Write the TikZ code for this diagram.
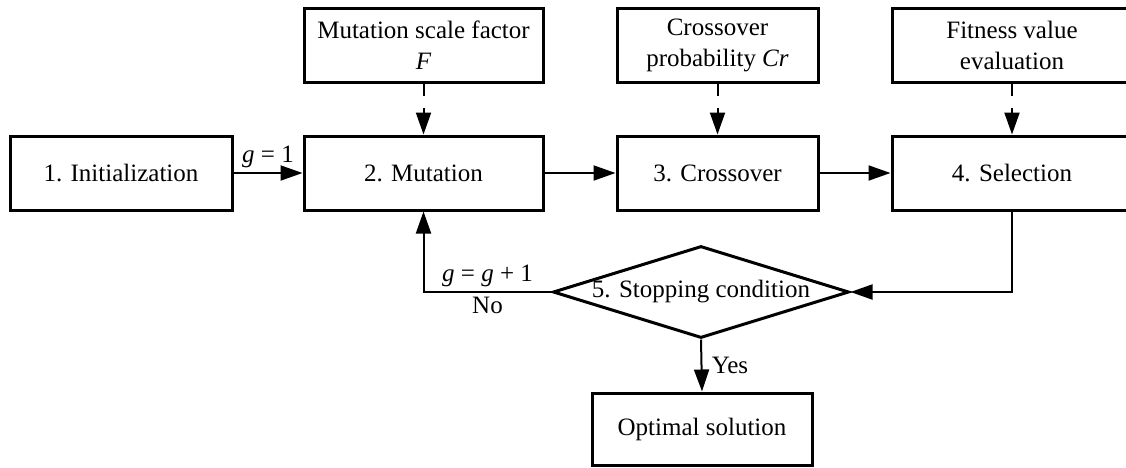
\documentclass[tikz,border=0pt]{standalone}
\usepackage{fontspec}
\setmainfont{Liberation Serif}
\usetikzlibrary{arrows.meta,shapes.geometric}

\begin{document}
\begin{tikzpicture}[x=1pt,y=-1pt,
  txt/.style={font=\fontsize{25}{31}\selectfont},
  box/.style={txt,draw,line width=3pt,minimum height=74pt,inner sep=0pt,align=center},
  conn/.style={line width=2pt,-{Triangle[length=22pt,width=15pt]}},
  dconn/.style={conn,dash pattern=on 12pt off 12pt}]
  \useasboundingbox (0,0) rectangle (1126,467);

  % main row
  \node[box,minimum width=222pt] (init) at (121,173) {1. Initialization};
  \node[box,minimum width=239pt] (mut) at (423.5,173) {2. Mutation};
  \node[box,minimum width=201pt] (cross) at (717.5,173) {3. Crossover};
  \node[box,minimum width=240pt] (sel) at (1012,173) {4. Selection};

  % parameter boxes
  \node[box,minimum width=239pt] (mutf) at (423.5,45) {Mutation scale factor\\\textit{F}};
  \node[box,minimum width=201pt] (crossp) at (717.5,45) {Crossover\\probability \textit{Cr}};
  \node[box,minimum width=240pt] (fit) at (1012,45) {Fitness value\\evaluation};

  % stopping test and result
  \node[draw,diamond,line width=3pt,minimum width=296pt,minimum height=92pt,inner sep=0pt] (cond) at (701,292) {};
  \node[txt] (condtxt) at (cond.center) {5. Stopping condition};
  \node[box,minimum width=220pt,minimum height=72pt] (opt) at (702,429) {Optimal solution};

  % connectors
  \draw[conn] (init.east) -- node[txt,above=1pt] {\textit{g} = 1} (mut.west);
  \draw[conn] (mut.east) -- (cross.west);
  \draw[conn] (cross.east) -- (sel.west);
  \draw[dconn] (mutf.south) -- (mut.north);
  \draw[dconn] (crossp.south) -- (cross.north);
  \draw[dconn] (fit.south) -- (sel.north);
  \draw[conn] (sel.south) |- (cond.east);
  \draw[conn] (cond.west) -- node[txt,above=1pt] {\textit{g} = \textit{g} + 1} node[txt,below=1pt] {No} (cond.west -| mut.south) -- (mut.south);
  \draw[conn] (cond.south) -- node[txt,right=6pt] {Yes} (opt.north);
\end{tikzpicture}
\end{document}
